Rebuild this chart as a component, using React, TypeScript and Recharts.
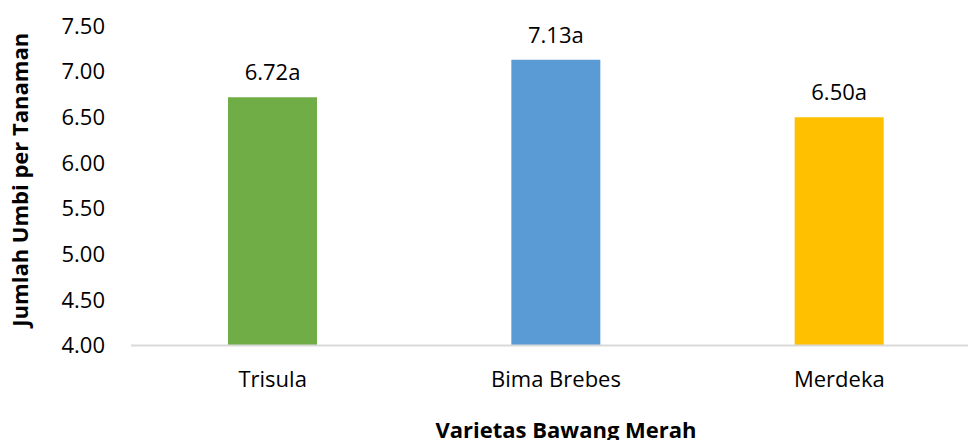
import * as React from "react";
import { BarChart, Bar, XAxis, YAxis, Cell, LabelList, Label } from "recharts";

const varieties = ["Trisula", "Bima Brebes", "Merdeka"];
const umbiValues = [6.72, 7.13, 6.5];
const notations = ["a", "a", "a"];
const barColors = ["#70AD47", "#5B9BD5", "#FFC000"];
const yTicks = [4, 4.5, 5, 5.5, 6, 6.5, 7, 7.5];

const data = varieties.map((name, i) => ({
  name,
  value: umbiValues[i],
  label: umbiValues[i].toFixed(2) + notations[i],
}));

const font = "'Open Sans', sans-serif";

const YTitle = (props: any) => {
  const { viewBox } = props;
  const cx = 28;
  const cy = viewBox.y + viewBox.height / 2 - 6;
  return (
    <text
      x={cx}
      y={cy}
      transform={`rotate(-90, ${cx}, ${cy})`}
      textAnchor="middle"
      fontFamily={font}
      fontWeight="bold"
      fontSize={22}
      fill="#000"
    >
      Jumlah Umbi per Tanaman
    </text>
  );
};

const XTitle = (props: any) => {
  const { viewBox } = props;
  const cx = viewBox.x + viewBox.width / 2 + 10;
  return (
    <text
      x={cx}
      y={438}
      textAnchor="middle"
      fontFamily={font}
      fontWeight="bold"
      fontSize={22}
      fill="#000"
    >
      Varietas Bawang Merah
    </text>
  );
};

export default function App() {
  return (
    <div
      style={{
        position: "absolute",
        left: 0,
        top: 0,
        width: 968,
        height: 440,
        overflow: "hidden",
        background: "#fff",
      }}
    >
      <BarChart
        width={1000}
        height={460}
        data={data}
        margin={{ top: 26, right: 19, bottom: 14.5, left: 0 }}
      >
        <XAxis
          dataKey="name"
          height={100}
          tickLine={false}
          tickSize={6}
          tickMargin={20}
          axisLine={{ stroke: "#D9D9D9", strokeWidth: 2 }}
          tick={{ fill: "#000", fontSize: 22, fontFamily: font }}
        >
          <Label content={XTitle} />
        </XAxis>
        <YAxis
          width={131}
          domain={[4, 7.5]}
          ticks={yTicks}
          tickFormatter={(v: number) => v.toFixed(2)}
          axisLine={false}
          tickLine={false}
          tickSize={6}
          tickMargin={20}
          tick={{ fill: "#000", fontSize: 22, fontFamily: font }}
        >
          <Label content={YTitle} />
        </YAxis>
        <Bar dataKey="value" barSize={89} isAnimationActive={false}>
          {data.map((d, i) => (
            <Cell key={d.name} fill={barColors[i]} />
          ))}
          <LabelList
            dataKey="label"
            position="top"
            offset={17}
            fill="#000"
            fontSize={22}
            fontFamily={font}
          />
        </Bar>
      </BarChart>
    </div>
  );
}
